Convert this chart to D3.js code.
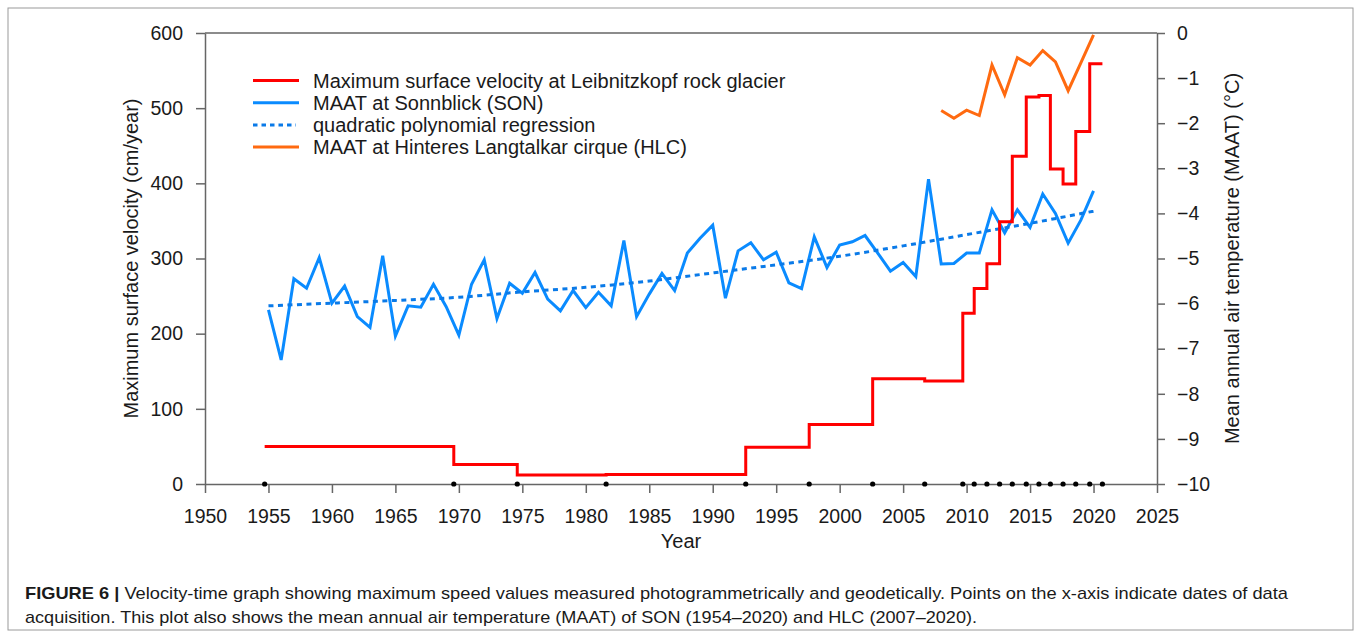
<!DOCTYPE html>
<html>
<head>
<meta charset="utf-8">
<script src="https://cdn.jsdelivr.net/npm/d3@7"></script>
<style>
  body { margin: 0; background: #fff; }
  svg text { font-family: "Liberation Sans", Arial, sans-serif; fill: #1a1a1a; }
  .axis path, .axis line { stroke: #666; stroke-width: 1.5; }
  .axis text { font-size: 19.5px; fill: #1a1a1a; }
</style>
</head>
<body>
<div id="chart"></div>
<script>
// MAAT at Sonnblick (SON), deg C
const sonYears = d3.range(1955, 2021);
const sonTemp = [
  -6.14, -7.25, -5.45, -5.66, -4.98, -5.99, -5.61, -6.29, -6.53, -4.94,
  -6.72, -6.05, -6.08, -5.57, -6.07, -6.70, -5.57, -5.03, -6.33, -5.55,
  -5.77, -5.31, -5.90, -6.16, -5.71, -6.09, -5.75, -6.05, -4.60, -6.29,
  -5.79, -5.33, -5.71, -4.88, -4.55, -4.26, -5.88, -4.83, -4.65, -5.03,
  -4.86, -5.54, -5.67, -4.52, -5.20, -4.70, -4.63, -4.49, -4.88, -5.28,
  -5.09, -5.40, -3.24, -5.12, -5.11, -4.88, -4.88, -3.92, -4.43, -3.92,
  -4.31, -3.57, -4.00, -4.66, -4.15, -3.50
];

// quadratic polynomial regression of SON
const regYears = [1955, 1960, 1965, 1970, 1975, 1980, 1985, 1990, 1995, 2000, 2005, 2010, 2015, 2020];
const regTemp = [-6.05, -5.99, -5.93, -5.86, -5.74, -5.64, -5.50, -5.32, -5.14, -4.95, -4.72, -4.47, -4.22, -3.95];

// MAAT at Hinteres Langtalkar cirque (HLC)
const hlcYears = [2008, 2009, 2010, 2011, 2012, 2013, 2014, 2015, 2016, 2017, 2018, 2019, 2020];
const hlcTemp = [-1.72, -1.89, -1.71, -1.83, -0.71, -1.37, -0.55, -0.71, -0.39, -0.64, -1.28, -0.66, -0.04];

// dates of data acquisition and max surface velocity (cm/year) of each interval
const acqDates = [1954.7, 1969.6, 1974.6, 1981.6, 1992.6, 1997.6, 2002.6, 2006.7, 2009.7, 2010.6,
                  2011.6, 2012.6, 2013.6, 2014.7, 2015.7, 2016.6, 2017.6, 2018.6, 2019.7, 2020.7];
const velocity = [50, 26, 12, 12.5, 49, 79, 140, 137, 227, 260,
                  293, 349, 436, 515, 517, 419, 399, 469, 559];

const xTicks = d3.range(1950, 2026, 5);
const vTicks = d3.range(0, 601, 100);
const tTicks = d3.range(-10, 1, 1);

const legendItems = [
  { label: "Maximum surface velocity at Leibnitzkopf rock glacier", color: "#ff0000", dash: null },
  { label: "MAAT at Sonnblick (SON)", color: "#0a8bff", dash: null },
  { label: "quadratic polynomial regression", color: "#0a7ae8", dash: "4.5,4" },
  { label: "MAAT at Hinteres Langtalkar cirque (HLC)", color: "#ff6a10", dash: null }
];

const captionLines = [
  { bold: "FIGURE 6 | ", text: "Velocity-time graph showing maximum speed values measured photogrammetrically and geodetically. Points on the x-axis indicate dates of data", len: 1263 },
  { bold: "", text: "acquisition. This plot also shows the mean annual air temperature (MAAT) of SON (1954\u20132020) and HLC (2007\u20132020).", len: 952 }
];

const W = 1355, H = 637;
const L = 205, R = 1157, T = 33, B = 484;

const svg = d3.select("#chart").append("svg")
    .attr("width", W)
    .attr("height", H);

// figure frame
svg.append("rect")
    .attr("x", 8).attr("y", 8)
    .attr("width", 1345).attr("height", 622)
    .attr("fill", "none")
    .attr("stroke", "#9a9a9a")
    .attr("stroke-width", 1);

const x = d3.scaleLinear().domain([1950, 2025]).range([L, R]);
const yV = d3.scaleLinear().domain([0, 600]).range([B, T]);
const yT = d3.scaleLinear().domain([-10, 0]).range([B, T]);

// top border of plot
svg.append("line")
    .attr("x1", L).attr("x2", R)
    .attr("y1", T).attr("y2", T)
    .attr("stroke", "#666").attr("stroke-width", 1.5);

svg.append("g")
    .attr("class", "axis")
    .attr("transform", "translate(0," + B + ")")
    .call(d3.axisBottom(x).tickValues(xTicks).tickFormat(d3.format("d"))
        .tickSize(9).tickSizeOuter(0).tickPadding(16));

svg.append("g")
    .attr("class", "axis")
    .attr("transform", "translate(" + L + ",0)")
    .call(d3.axisLeft(yV).tickValues(vTicks).tickSize(9).tickSizeOuter(0).tickPadding(13));

svg.append("g")
    .attr("class", "axis")
    .attr("transform", "translate(" + R + ",0)")
    .call(d3.axisRight(yT).tickValues(tTicks).tickSize(8).tickSizeOuter(0).tickPadding(12));

svg.selectAll(".axis text").attr("fill", "#1a1a1a");

// axis titles
svg.append("text")
    .attr("x", (L + R) / 2).attr("y", 548)
    .attr("text-anchor", "middle")
    .style("font-size", "20px")
    .text("Year");

svg.append("text")
    .attr("transform", "translate(138," + (T + B) / 2 + ") rotate(-90)")
    .attr("text-anchor", "middle")
    .style("font-size", "20px")
    .text("Maximum surface velocity (cm/year)");

svg.append("text")
    .attr("transform", "translate(1239," + (T + B) / 2 + ") rotate(-90)")
    .attr("text-anchor", "middle")
    .style("font-size", "20px")
    .text("Mean annual air temperature (MAAT) (\u00b0C)");

// series
const son = sonYears.map((yr, i) => [yr, sonTemp[i]]);
const reg = regYears.map((yr, i) => [yr, regTemp[i]]);
const hlc = hlcYears.map((yr, i) => [yr, hlcTemp[i]]);
const vel = acqDates.map((d, i) => [d, i < velocity.length ? velocity[i] : velocity[velocity.length - 1]]);

const tempLine = d3.line().x(d => x(d[0])).y(d => yT(d[1]));

svg.append("path")
    .datum(son)
    .attr("d", tempLine)
    .attr("fill", "none")
    .attr("stroke", legendItems[1].color)
    .attr("stroke-width", 3)
    .attr("stroke-linejoin", "miter");

svg.append("path")
    .datum(reg)
    .attr("d", tempLine.curve(d3.curveMonotoneX))
    .attr("fill", "none")
    .attr("stroke", legendItems[2].color)
    .attr("stroke-width", 3)
    .attr("stroke-dasharray", "5,4.5");

tempLine.curve(d3.curveLinear);

svg.append("path")
    .datum(hlc)
    .attr("d", tempLine)
    .attr("fill", "none")
    .attr("stroke", legendItems[3].color)
    .attr("stroke-width", 3);

svg.append("path")
    .datum(vel)
    .attr("d", d3.line().curve(d3.curveStepAfter).x(d => x(d[0])).y(d => yV(d[1])))
    .attr("fill", "none")
    .attr("stroke", legendItems[0].color)
    .attr("stroke-width", 3);

// acquisition points on the x-axis
svg.append("g")
    .selectAll("circle")
    .data(acqDates)
    .join("circle")
    .attr("cx", d => x(d))
    .attr("cy", B)
    .attr("r", 2.6)
    .attr("fill", "#000");

// legend
const legend = svg.append("g").attr("transform", "translate(253,80.5)");
const items = legend.selectAll("g")
    .data(legendItems)
    .join("g")
    .attr("transform", (d, i) => "translate(0," + (i * 22.2) + ")");

items.append("line")
    .attr("x1", 0).attr("x2", d => d.dash ? 43 : 46)
    .attr("stroke", d => d.color)
    .attr("stroke-width", 3)
    .attr("stroke-dasharray", d => d.dash);

items.append("text")
    .attr("x", 60).attr("y", 7)
    .style("font-size", "20px")
    .text(d => d.label);

// caption
const cap = svg.append("g");
captionLines.forEach((c, i) => {
    const t = cap.append("text")
        .attr("x", 25).attr("y", 599 + i * 24)
        .attr("textLength", c.len)
        .attr("lengthAdjust", "spacingAndGlyphs")
        .style("font-family", "'Liberation Sans Narrow', 'Arial Narrow', 'Liberation Sans', sans-serif")
        .style("font-size", "17px");
    if (c.bold) t.append("tspan").style("font-weight", "bold").text(c.bold);
    t.append("tspan").text(c.text);
});
</script>
</body>
</html>
